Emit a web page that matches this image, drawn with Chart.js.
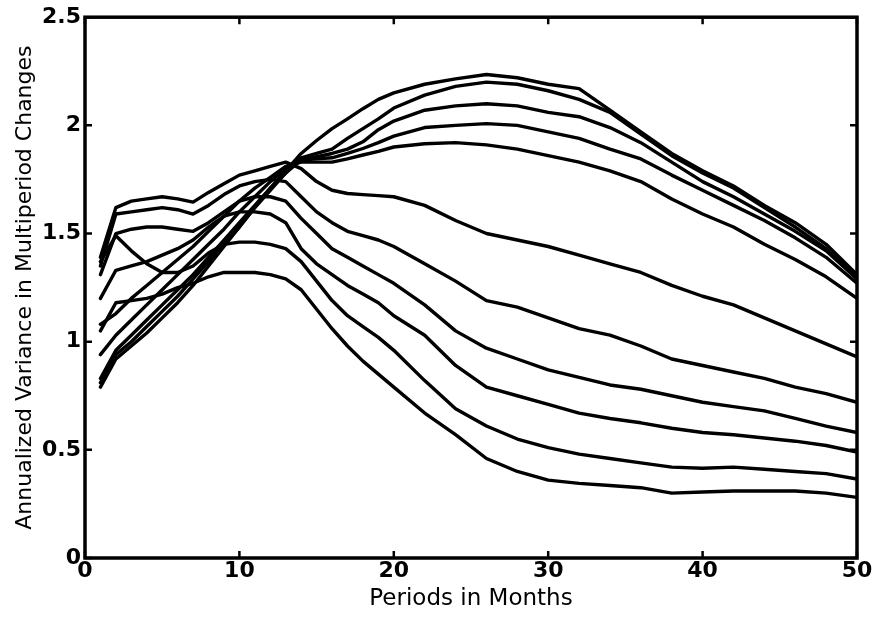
<!DOCTYPE html>
<html>
<head>
<meta charset="utf-8">
<script src="https://cdn.jsdelivr.net/npm/chart.js@4.4.1/dist/chart.umd.min.js"></script>
<style>
  html, body { margin: 0; padding: 0; background: #fff; }
</style>
</head>
<body>
<canvas id="chart" width="876" height="617"></canvas>
<script>
const months = [1,2,3,4,5,6,7,8,9,10,11,12,13,14,15,16,17,18,19,20,22,24,26,28,30,32,34,36,38,40,42,44,46,48,50];

// upper group: start low, rise through the knot near 13-14 months, peak late
const curveA1 = [0.79,0.92,0.98,1.04,1.11,1.18,1.26,1.35,1.44,1.53,1.62,1.71,1.79,1.87,1.93,1.985,2.03,2.077,2.12,2.15,2.19,2.215,2.235,2.22,2.19,2.17,2.07,1.97,1.87,1.79,1.72,1.63,1.55,1.45,1.31];
const curveA2 = [0.81,0.94,1.00,1.07,1.14,1.21,1.29,1.37,1.45,1.53,1.62,1.70,1.78,1.85,1.87,1.89,1.94,1.985,2.03,2.08,2.14,2.18,2.20,2.19,2.16,2.12,2.06,1.96,1.86,1.78,1.71,1.62,1.53,1.43,1.30];
const curveA3 = [0.83,0.96,1.03,1.10,1.17,1.24,1.31,1.39,1.47,1.55,1.63,1.71,1.78,1.84,1.855,1.87,1.89,1.924,1.98,2.02,2.07,2.09,2.10,2.09,2.06,2.04,1.99,1.92,1.83,1.74,1.67,1.59,1.51,1.42,1.29];
const curveA4 = [0.94,1.03,1.10,1.17,1.24,1.31,1.38,1.45,1.52,1.60,1.67,1.74,1.80,1.84,1.845,1.85,1.87,1.893,1.92,1.95,1.99,2.00,2.008,2.00,1.97,1.94,1.89,1.845,1.77,1.70,1.63,1.56,1.48,1.39,1.27];
const curveA5 = [1.08,1.13,1.20,1.26,1.32,1.38,1.44,1.51,1.58,1.65,1.71,1.76,1.81,1.83,1.83,1.83,1.845,1.863,1.88,1.90,1.915,1.92,1.91,1.89,1.86,1.83,1.79,1.74,1.66,1.59,1.53,1.45,1.38,1.30,1.20];

// lower group: peak early, fall away after ~13 months
const curveB1 = [1.39,1.62,1.65,1.66,1.67,1.66,1.645,1.69,1.73,1.77,1.79,1.81,1.83,1.80,1.74,1.70,1.685,1.68,1.675,1.67,1.63,1.56,1.50,1.47,1.44,1.40,1.36,1.32,1.26,1.21,1.17,1.11,1.05,0.99,0.93];
const curveB2 = [1.35,1.59,1.60,1.61,1.62,1.61,1.59,1.63,1.68,1.72,1.74,1.75,1.74,1.67,1.60,1.55,1.51,1.49,1.47,1.44,1.36,1.28,1.19,1.16,1.11,1.06,1.03,0.98,0.92,0.89,0.86,0.83,0.79,0.76,0.72];
const curveB3 = [1.31,1.50,1.52,1.53,1.53,1.52,1.51,1.55,1.60,1.65,1.67,1.67,1.65,1.57,1.50,1.43,1.39,1.35,1.31,1.27,1.17,1.05,0.97,0.92,0.87,0.835,0.80,0.78,0.75,0.72,0.70,0.68,0.645,0.61,0.58];
const curveB4 = [1.20,1.33,1.35,1.37,1.40,1.43,1.47,1.53,1.58,1.60,1.60,1.59,1.55,1.43,1.36,1.31,1.26,1.22,1.18,1.12,1.03,0.89,0.79,0.75,0.71,0.67,0.645,0.625,0.60,0.58,0.57,0.555,0.54,0.52,0.49];
const curveB5 = [1.37,1.49,1.42,1.36,1.32,1.32,1.35,1.41,1.45,1.46,1.46,1.45,1.43,1.37,1.28,1.19,1.12,1.07,1.02,0.96,0.82,0.69,0.61,0.55,0.51,0.48,0.46,0.44,0.42,0.415,0.42,0.41,0.40,0.39,0.365];
const curveB6 = [1.05,1.18,1.19,1.20,1.22,1.25,1.27,1.30,1.32,1.32,1.32,1.31,1.29,1.24,1.15,1.06,0.98,0.91,0.85,0.79,0.67,0.57,0.46,0.40,0.36,0.345,0.335,0.325,0.30,0.305,0.31,0.31,0.31,0.30,0.28];

const xTicks = [0, 10, 20, 30, 40, 50];
const yTicks = [0, 0.5, 1, 1.5, 2, 2.5];

const allCurves = [curveA1, curveA2, curveA3, curveA4, curveA5, curveB1, curveB2, curveB3, curveB4, curveB5, curveB6];

// matlab style box with inward ticks on all four sides
const boxTicks = {
    id: 'boxTicks',
    afterDraw(chart) {
        const { ctx, chartArea: a, scales } = chart;
        const len = 7;
        ctx.save();
        ctx.strokeStyle = '#000';
        ctx.lineWidth = 2.5;
        xTicks.forEach(v => {
            const px = scales.x.getPixelForValue(v);
            ctx.beginPath();
            ctx.moveTo(px, a.bottom); ctx.lineTo(px, a.bottom - len);
            ctx.moveTo(px, a.top); ctx.lineTo(px, a.top + len);
            ctx.stroke();
        });
        yTicks.forEach(v => {
            const py = scales.y.getPixelForValue(v);
            ctx.beginPath();
            ctx.moveTo(a.left, py); ctx.lineTo(a.left + len, py);
            ctx.moveTo(a.right, py); ctx.lineTo(a.right - len, py);
            ctx.stroke();
        });
        ctx.lineWidth = 3.5;
        ctx.strokeRect(a.left, a.top, a.right - a.left, a.bottom - a.top);
        ctx.restore();
    }
};

const font = 'DejaVu Sans';

new Chart(document.getElementById('chart'), {
    type: 'line',
    data: {
        datasets: allCurves.map((c, i) => ({
            label: 'curve ' + (i + 1),
            data: months.map((m, j) => ({ x: m, y: c[j] })),
            borderColor: '#000',
            borderWidth: 3.4,
            borderJoinStyle: 'round',
            borderCapStyle: 'round',
            pointRadius: 0,
            tension: 0,
            fill: false
        }))
    },
    options: {
        responsive: false,
        animation: false,
        devicePixelRatio: 1,
        layout: { padding: { top: 15, right: 19, left: 0, bottom: 0 } },
        plugins: { legend: { display: false }, tooltip: { enabled: false } },
        scales: {
            x: {
                type: 'linear', min: 0, max: 50,
                afterBuildTicks: s => { s.ticks = xTicks.map(v => ({ value: v })); },
                afterFit: s => { s.height = 59; },
                grid: { display: false, drawTicks: false },
                border: { display: false },
                ticks: { color: '#000', font: { family: font, size: 22, weight: 'bold' }, padding: 0, maxRotation: 0, callback: v => String(v) },
                title: { display: true, text: 'Periods in Months', color: '#000', font: { family: font, size: 23 }, padding: { top: 0, bottom: 4 } }
            },
            y: {
                type: 'linear', min: 0, max: 2.5,
                afterBuildTicks: s => { s.ticks = yTicks.map(v => ({ value: v })); },
                afterFit: s => { s.width = 85; },
                grid: { display: false, drawTicks: false },
                border: { display: false },
                ticks: { color: '#000', font: { family: font, size: 22, weight: 'bold' }, padding: 4, callback: v => String(v) },
                title: { display: true, text: 'Annualized Variance in Multiperiod Changes', color: '#000', font: { family: font, size: 22 }, padding: { top: 12, bottom: 0 } }
            }
        }
    },
    plugins: [boxTicks]
});
</script>
</body>
</html>
